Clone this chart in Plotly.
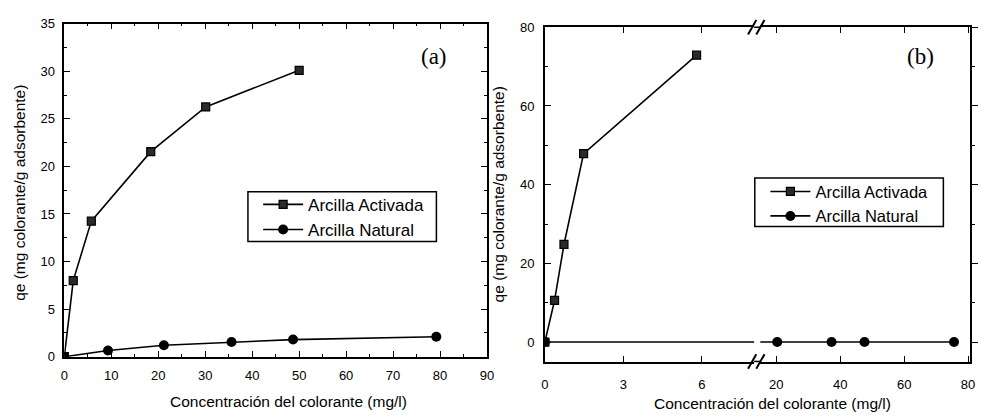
import plotly.graph_objects as go

W, H = 983, 416

def fx(p):
    return p / W

def fy(p):
    return 1 - p / H

# ---------------- data ----------------
# Panel (a)
a_act_x = [0, 1.9, 5.75, 18.4, 30.1, 50.0]
a_act_y = [0, 8.0, 14.25, 21.55, 26.25, 30.1]
a_nat_x = [0, 9.3, 21.2, 35.6, 48.7, 79.2]
a_nat_y = [0, 0.65, 1.2, 1.55, 1.8, 2.1]

# Panel (b)
b_act_x = [0, 0.37, 0.73, 1.48, 5.8]
b_act_y = [0, 10.6, 24.8, 47.9, 72.9]
b_nat_x = [0, 20.3, 37.3, 47.6, 75.6]
b_nat_y = [0, 0, 0, 0, 0]

name_act = "Arcilla Activada"
name_nat = "Arcilla Natural"
x_title = "Concentración del colorante (mg/l)"
y_title = "qe (mg colorante/g adsorbente)"

FONT = "Liberation Sans, Arial, sans-serif"
SERIF = "Liberation Serif, Times New Roman, serif"

sq = dict(symbol="square", size=8, color="#2a2a2a", line=dict(color="black", width=1.2))
ci = dict(symbol="circle", size=10, color="black", line=dict(color="black", width=0))
ln = dict(color="black", width=1.6)

fig = go.Figure()

fig.add_trace(go.Scatter(x=a_act_x, y=a_act_y, mode="lines+markers", name=name_act,
                         marker=sq, line=ln, xaxis="x", yaxis="y", legend="legend"))
fig.add_trace(go.Scatter(x=a_nat_x, y=a_nat_y, mode="lines+markers", name=name_nat,
                         marker=ci, line=ln, xaxis="x", yaxis="y", legend="legend"))

fig.add_trace(go.Scatter(x=b_act_x, y=b_act_y, mode="lines+markers", name=name_act,
                         marker=sq, line=ln, xaxis="x2", yaxis="y2", legend="legend2"))
fig.add_trace(go.Scatter(x=b_nat_x, y=b_nat_y, mode="lines+markers", name=name_nat,
                         marker=ci, line=ln, xaxis="x2", yaxis="y2", legend="legend2"))
fig.add_trace(go.Scatter(x=b_nat_x, y=b_nat_y, mode="lines+markers", name=name_nat,
                         marker=ci, line=ln, xaxis="x3", yaxis="y3", showlegend=False))

tickfont = dict(family=FONT, size=13, color="black")
common = dict(showline=True, linecolor="black", linewidth=1.5, showgrid=False,
              zeroline=False, tickfont=tickfont, tickcolor="black", ticklen=6,
              tickwidth=1.3, ticklabeloverflow="allow")

# second segment of the broken axis: 20 -> 781 px, 80 -> 975 px
x3_lo, x3_hi = 15, 80.6
px_per = (975 - 781) / 60.0
x3_left = 781 - (20 - x3_lo) * px_per
x3_right = 975 + (x3_hi - 80) * px_per

fig.update_layout(
    width=W, height=H,
    margin=dict(l=0, r=0, t=0, b=0),
    paper_bgcolor="white", plot_bgcolor="white",
    xaxis=dict(domain=[fx(61), fx(488.5)], range=[0, 90], anchor="y",
               tickmode="linear", tick0=0, dtick=10, ticks="inside", mirror="ticks",
               ticklabelstandoff=6,
               minor=dict(dtick=5, ticks="inside", ticklen=3, tickcolor="black"),
               **common),
    yaxis=dict(domain=[fy(362.8), fy(17.3)], range=[0, 35], anchor="x",
               tickmode="linear", tick0=0, dtick=5, ticks="inside", mirror="ticks",
               ticklabelstandoff=5,
               minor=dict(dtick=2.5, ticks="inside", ticklen=3, tickcolor="black"),
               **common),
    xaxis2=dict(domain=[fx(547), fx(758.6)], range=[0, 8], anchor="y2",
                tickmode="linear", tick0=0, dtick=3, ticks="inside", mirror="ticks",
                ticklabelstandoff=10, **common),
    xaxis3=dict(domain=[fx(x3_left), fx(x3_right)], range=[x3_lo, x3_hi], anchor="y3",
                tickmode="linear", tick0=20, dtick=20, ticks="inside", mirror="ticks",
                ticklabelstandoff=10, **common),
    yaxis2=dict(domain=[fy(368), fy(21)], range=[-5, 80], anchor="x2", side="left",
                tickmode="linear", tick0=0, dtick=20, ticks="inside", mirror=False,
                ticklabelstandoff=6,
                minor=dict(dtick=10, ticks="inside", ticklen=3, tickcolor="black"),
                **common),
    yaxis3=dict(domain=[fy(368), fy(21)], range=[-5, 80], anchor="x3", side="right",
                tickmode="linear", tick0=0, dtick=20, ticks="outside",
                showticklabels=False,
                minor=dict(dtick=10, ticks="outside", ticklen=3, tickcolor="black"),
                **common),
    legend=dict(x=fx(257), y=fy(186.5), xanchor="left", yanchor="top",
                bgcolor="rgba(0,0,0,0)", borderwidth=0,
                font=dict(family=FONT, size=17, color="black"),
                tracegroupgap=0, itemwidth=40),
    legend2=dict(x=fx(770), y=fy(173.5), xanchor="left", yanchor="top",
                 bgcolor="rgba(0,0,0,0)", borderwidth=0,
                 font=dict(family=FONT, size=16.5, color="black"),
                 tracegroupgap=0, itemwidth=40),
)

def note(text, px, py, size, family, angle=0):
    return dict(text=text, x=fx(px), y=fy(py), xref="paper", yref="paper",
                xanchor="center", yanchor="middle", textangle=angle,
                showarrow=False, font=dict(family=family, size=size, color="black"))

ann = [
    note("(a)", 435, 51.7, 23, SERIF),
    note("(b)", 927, 51.7, 23, SERIF),
    note(x_title, 288, 409, 15.5, FONT),
    note(x_title, 777, 411, 15.5, FONT),
    note(y_title, 15, 193, 15.5, FONT, -90),
    note(y_title, 500, 194, 15.5, FONT, -90),
]
fig.update_layout(annotations=ann)

shapes = []
# legend frames
shapes.append(dict(type="rect", xref="paper", yref="paper",
                   x0=fx(246.7), x1=fx(437.3), y0=fy(243.3), y1=fy(191.7),
                   line=dict(color="black", width=1.5), layer="below"))
shapes.append(dict(type="rect", xref="paper", yref="paper",
                   x0=fx(759.3), x1=fx(950), y0=fy(227.7), y1=fy(177.3),
                   line=dict(color="black", width=1.5), layer="below"))
# axis break decorations
for yl in (21, 367.7):
    shapes.append(dict(type="line", xref="paper", yref="paper",
                       x0=fx(758.6), x1=fx(x3_left), y0=fy(yl), y1=fy(yl),
                       line=dict(color="black", width=1.5)))
    for dx in (0, 8.3):
        shapes.append(dict(type="line", xref="paper", yref="paper",
                           x0=fx(752.5 + dx), y0=fy(yl + 7.5),
                           x1=fx(760.8 + dx), y1=fy(yl - 7.5),
                           line=dict(color="black", width=2)))
fig.update_layout(shapes=shapes)

fig.write_html("out.html")
